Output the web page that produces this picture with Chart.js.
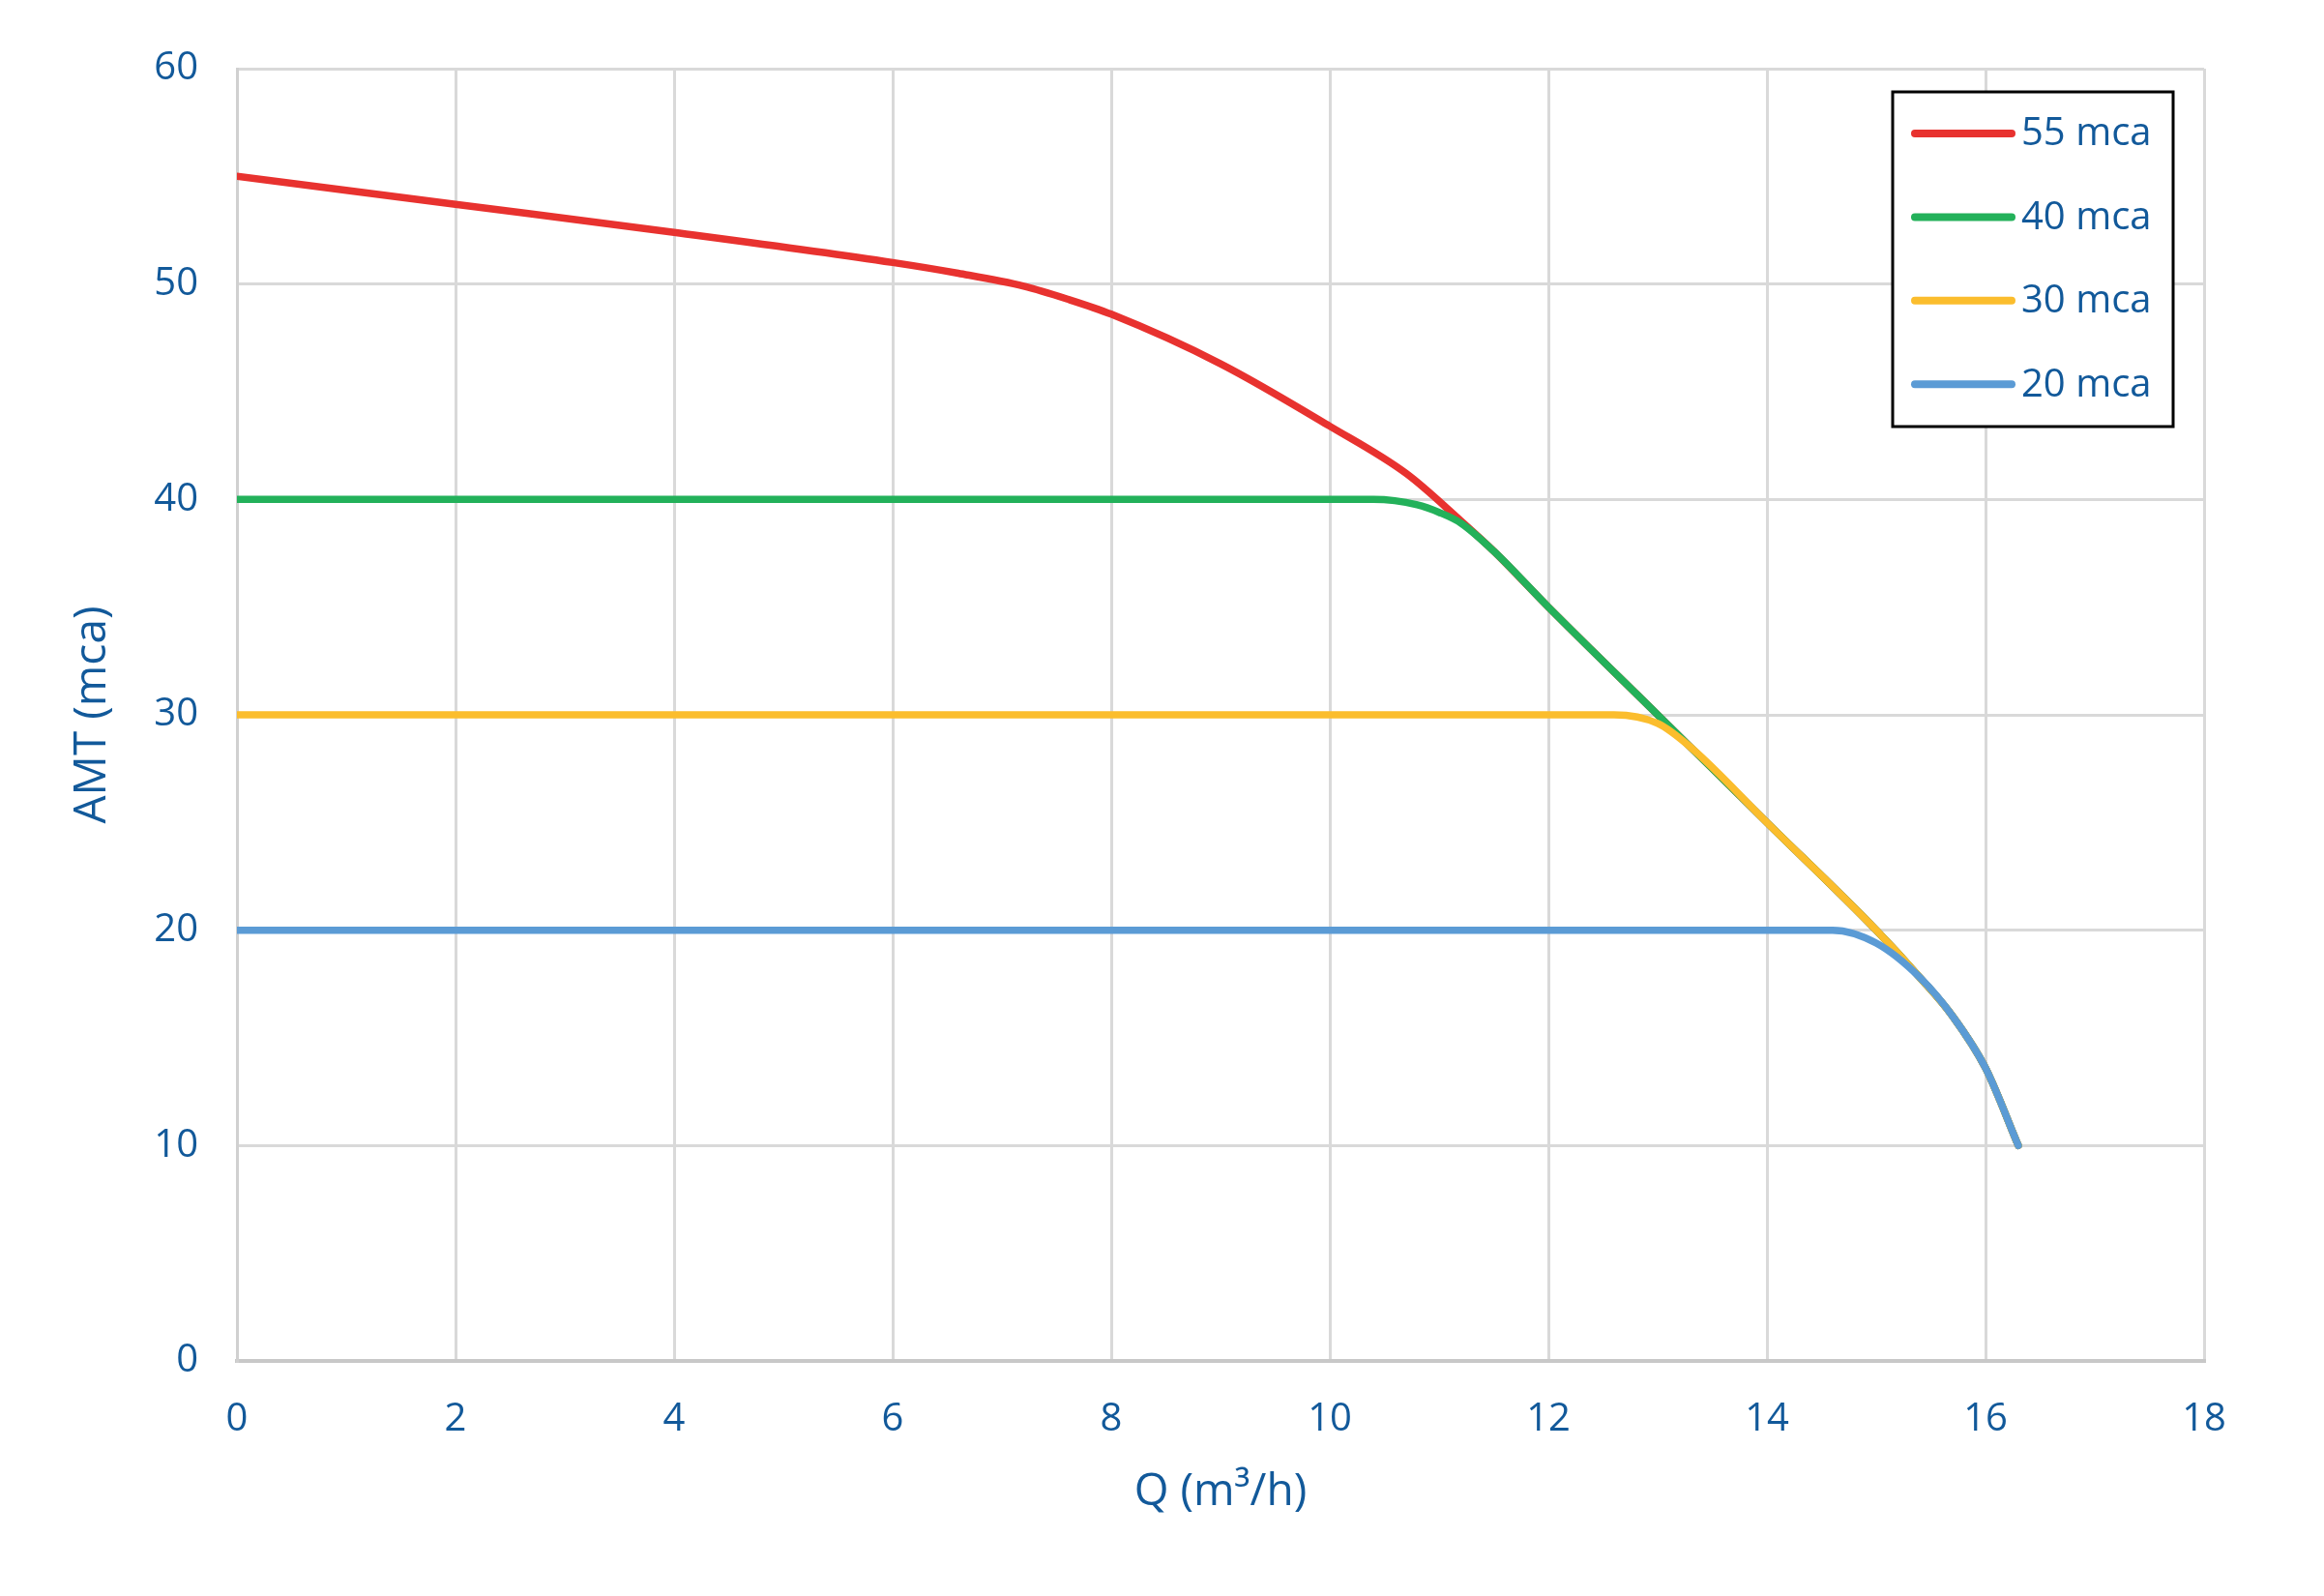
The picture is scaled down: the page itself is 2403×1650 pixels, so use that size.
<!DOCTYPE html>
<html>
<head>
<meta charset="utf-8">
<script src="https://cdn.jsdelivr.net/npm/chart.js@4/dist/chart.umd.min.js"></script>
<style>
  html, body { margin: 0; background: #fff; }
</style>
</head>
<body>
<canvas id="chart" width="2403" height="1650"></canvas>
<script>
// Pump curves: flow Q (m3/h) vs head AMT (mca), one curve per pressure setting
const seriesLabels = ['55 mca', '40 mca', '30 mca', '20 mca'];
const seriesColors = ['#e8322f', '#23b15a', '#fbbd2d', '#5b9bd5'];

const q55 = [0, 2, 4, 6, 6.6, 7.2, 7.6, 8, 9, 10, 10.7, 11.2, 11.5, 12, 13, 14, 15, 15.4, 15.7, 16, 16.3];
const h55 = [55, 53.7, 52.4, 51.0, 50.5, 49.9, 49.3, 48.6, 46.3, 43.4, 41.2, 39.0, 37.6, 35, 30, 25, 20, 17.8, 16, 13.6, 10];

const q40 = [0, 2, 4, 6, 8, 10, 10.4, 10.8, 11.0, 11.2, 11.5, 12, 13, 14, 15, 15.4, 15.7, 16, 16.3];
const h40 = [40, 40, 40, 40, 40, 40, 40, 39.75, 39.4, 38.9, 37.6, 35, 30, 25, 20, 17.8, 16, 13.6, 10];

const q30 = [0, 2, 4, 6, 8, 10, 12, 12.6, 13, 13.3, 14, 15, 15.4, 15.7, 16, 16.3];
const h30 = [30, 30, 30, 30, 30, 30, 30, 30, 29.6, 28.5, 25, 20, 17.8, 16, 13.6, 10];

const q20 = [0, 2, 4, 6, 8, 10, 12, 14, 14.6, 15, 15.4, 15.7, 16, 16.3];
const h20 = [20, 20, 20, 20, 20, 20, 20, 20, 20, 19.4, 17.8, 16, 13.6, 10];

const xTicks = { min: 0, max: 18, step: 2 };
const yTicks = { min: 0, max: 60, step: 10 };

const textColor = '#12599a';
const font = 'Open Sans';

const toPoints = (qs, hs) => qs.map((q, i) => ({ x: q, y: hs[i] }));
const series = [[q55, h55], [q40, h40], [q30, h30], [q20, h20]];

const legendBox = {
  id: 'legendBox',
  afterDraw(chart) {
    const { ctx, chartArea } = chart;
    const x = chartArea.right - 322;
    const y = chartArea.top + 24;
    const w = 290, h = 346;
    ctx.save();
    ctx.fillStyle = '#fff';
    ctx.fillRect(x, y, w, h);
    ctx.strokeStyle = '#000';
    ctx.lineWidth = 3;
    ctx.strokeRect(x, y, w, h);
    ctx.font = `40px "${font}"`;
    ctx.textBaseline = 'middle';
    chart.data.datasets.forEach((ds, i) => {
      const ly = y + 43 + i * 86.4;
      ctx.strokeStyle = ds.borderColor;
      ctx.lineWidth = 8;
      ctx.lineCap = 'round';
      ctx.beginPath();
      ctx.moveTo(x + 23, ly);
      ctx.lineTo(x + 123, ly);
      ctx.stroke();
      ctx.fillStyle = textColor;
      ctx.fillText(ds.label, x + 133, ly + 1);
    });
    ctx.restore();
  },
};

new Chart(document.getElementById('chart'), {
  type: 'line',
  data: {
    datasets: series.map(([qs, hs], i) => ({
      label: seriesLabels[i],
      data: toPoints(qs, hs),
      borderColor: seriesColors[i],
      backgroundColor: seriesColors[i],
      borderWidth: 7.5,
      borderCapStyle: 'round',
      pointRadius: 0,
      cubicInterpolationMode: 'monotone',
      order: series.length - i,
    })),
  },
  options: {
    responsive: false,
    animation: false,
    layout: {
      padding: { left: 0, right: 124, top: 71, bottom: 0 },
    },
    plugins: {
      legend: { display: false },
      tooltip: { enabled: false },
    },
    scales: {
      x: {
        type: 'linear',
        min: xTicks.min,
        max: xTicks.max,
        afterFit: (scale) => { scale.height = 243; },
        ticks: {
          stepSize: xTicks.step,
          color: textColor,
          padding: 37,
          font: { family: font, size: 40 },
        },
        grid: { color: '#d9d9d9', lineWidth: 3, drawTicks: false },
        border: { color: '#c8c8c8', width: 4 },
        title: {
          display: true,
          text: 'Q (m³/h)',
          color: textColor,
          font: { family: font, size: 46 },
          padding: { top: 0, bottom: 80 },
        },
      },
      y: {
        min: yTicks.min,
        max: yTicks.max,
        afterFit: (scale) => { scale.width = 245; },
        ticks: {
          stepSize: yTicks.step,
          color: textColor,
          padding: 40,
          font: { family: font, size: 40 },
        },
        grid: { color: '#d9d9d9', lineWidth: 3, drawTicks: false },
        border: { color: '#d0d0d0', width: 3 },
        title: {
          display: true,
          text: 'AMT (mca)',
          color: textColor,
          font: { family: font, size: 46 },
          padding: { top: 68, bottom: 0 },
        },
      },
    },
  },
  plugins: [legendBox],
});
</script>
</body>
</html>
